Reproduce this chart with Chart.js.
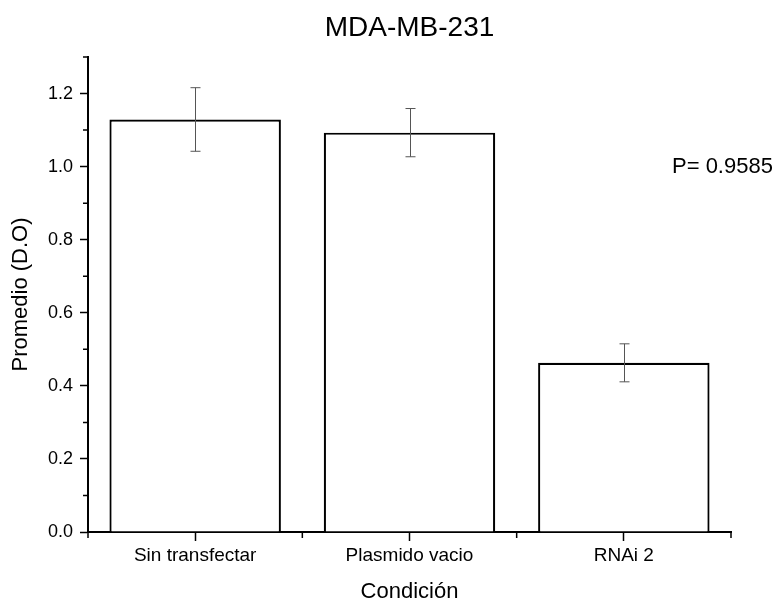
<!DOCTYPE html>
<html>
<head>
<meta charset="utf-8">
<script src="https://cdn.jsdelivr.net/npm/chart.js@4/dist/chart.umd.min.js"></script>
<style>
  body { margin: 0; background: #fff; }
  canvas { display: block; }
</style>
</head>
<body>
<canvas id="chart" width="777" height="603"></canvas>
<script>
const categories = ["Sin transfectar", "Plasmido vacio", "RNAi 2"];
const means = [1.129, 1.093, 0.463];
const errors = [0.087, 0.066, 0.052];
const yTicks = [0, 0.2, 0.4, 0.6, 0.8, 1.0, 1.2];
const yMinorTicks = [0.1, 0.3, 0.5, 0.7, 0.9, 1.1, 1.3];
const pValue = "P= 0.9585";

const FONT = "'Liberation Sans', Arial, sans-serif";

// error bars, minor ticks, title and p-value text
const extras = {
    id: "extras",
    afterDatasetsDraw(chart) {
        const ctx = chart.ctx;
        const x = chart.scales.x;
        const y = chart.scales.y;
        ctx.save();
        ctx.strokeStyle = "#555";
        ctx.lineWidth = 1;
        means.forEach((m, i) => {
            const px = Math.round(x.getPixelForValue(i)) + 0.5;
            const top = y.getPixelForValue(m + errors[i]);
            const bot = y.getPixelForValue(m - errors[i]);
            ctx.beginPath();
            ctx.moveTo(px, top);
            ctx.lineTo(px, bot);
            ctx.moveTo(px - 5, top);
            ctx.lineTo(px + 5, top);
            ctx.moveTo(px - 5, bot);
            ctx.lineTo(px + 5, bot);
            ctx.stroke();
        });
        ctx.restore();
    },
    afterDraw(chart) {
        const ctx = chart.ctx;
        const x = chart.scales.x;
        const y = chart.scales.y;
        const area = chart.chartArea;
        ctx.save();
        ctx.strokeStyle = "#000";
        ctx.lineWidth = 1.5;
        ctx.beginPath();
        yMinorTicks.forEach(v => {
            const py = y.getPixelForValue(v);
            ctx.moveTo(area.left - 5, py);
            ctx.lineTo(area.left, py);
        });
        const step = (x.right - x.left) / categories.length;
        for (let i = 0; i <= categories.length; i++) {
            const px = x.left + i * step;
            ctx.moveTo(px, area.bottom);
            ctx.lineTo(px, area.bottom + 6);
        }
        ctx.stroke();

        ctx.fillStyle = "#000";
        ctx.textAlign = "center";
        ctx.textBaseline = "alphabetic";
        ctx.font = "28px " + FONT;
        ctx.fillText("MDA-MB-231", (area.left + area.right) / 2, 36);
        ctx.textAlign = "left";
        ctx.font = "22px " + FONT;
        ctx.fillText(pValue, 672, 173);
        ctx.restore();
    }
};

new Chart(document.getElementById("chart"), {
    type: "bar",
    data: {
        labels: categories,
        datasets: [{
            data: means,
            backgroundColor: "#fff",
            borderColor: "#000",
            borderWidth: 2.2,
            barPercentage: 0.8,
            categoryPercentage: 1.0,
        }],
    },
    options: {
        responsive: false,
        animation: false,
        layout: { padding: { top: 57, right: 46, left: 0, bottom: 0 } },
        plugins: {
            legend: { display: false },
            tooltip: { enabled: false },
        },
        scales: {
            x: {
                offset: true,
                afterFit: (s) => { s.height = 71; },
                grid: {
                    offset: false,
                    drawOnChartArea: false,
                    drawTicks: true,
                    tickLength: 9,
                    tickColor: "#000",
                    tickWidth: 1.5,
                },
                border: { color: "#000", width: 2 },
                ticks: {
                    color: "#000",
                    padding: 3,
                    maxRotation: 0,
                    font: { family: FONT, size: 19 },
                },
                title: {
                    display: true,
                    text: "Condición",
                    color: "#000",
                    font: { family: FONT, size: 22, lineHeight: 1.0 },
                    padding: { top: 4, bottom: 0 },
                },
            },
            y: {
                min: 0,
                max: 1.3,
                afterFit: (s) => { s.width = 88; },
                afterBuildTicks: (s) => { s.ticks = yTicks.map(v => ({ value: v })); },
                grid: {
                    drawOnChartArea: false,
                    drawTicks: true,
                    tickLength: 8,
                    tickColor: "#000",
                    tickWidth: 1.5,
                },
                border: { color: "#000", width: 2 },
                ticks: {
                    color: "#000",
                    padding: 7,
                    font: { family: FONT, size: 18 },
                    callback: (v) => v.toFixed(1),
                },
                title: {
                    display: true,
                    text: "Promedio (D.O)",
                    color: "#000",
                    font: { family: FONT, size: 22 },
                    padding: { top: 8, bottom: 0 },
                },
            },
        },
    },
    plugins: [extras],
});
</script>
</body>
</html>
